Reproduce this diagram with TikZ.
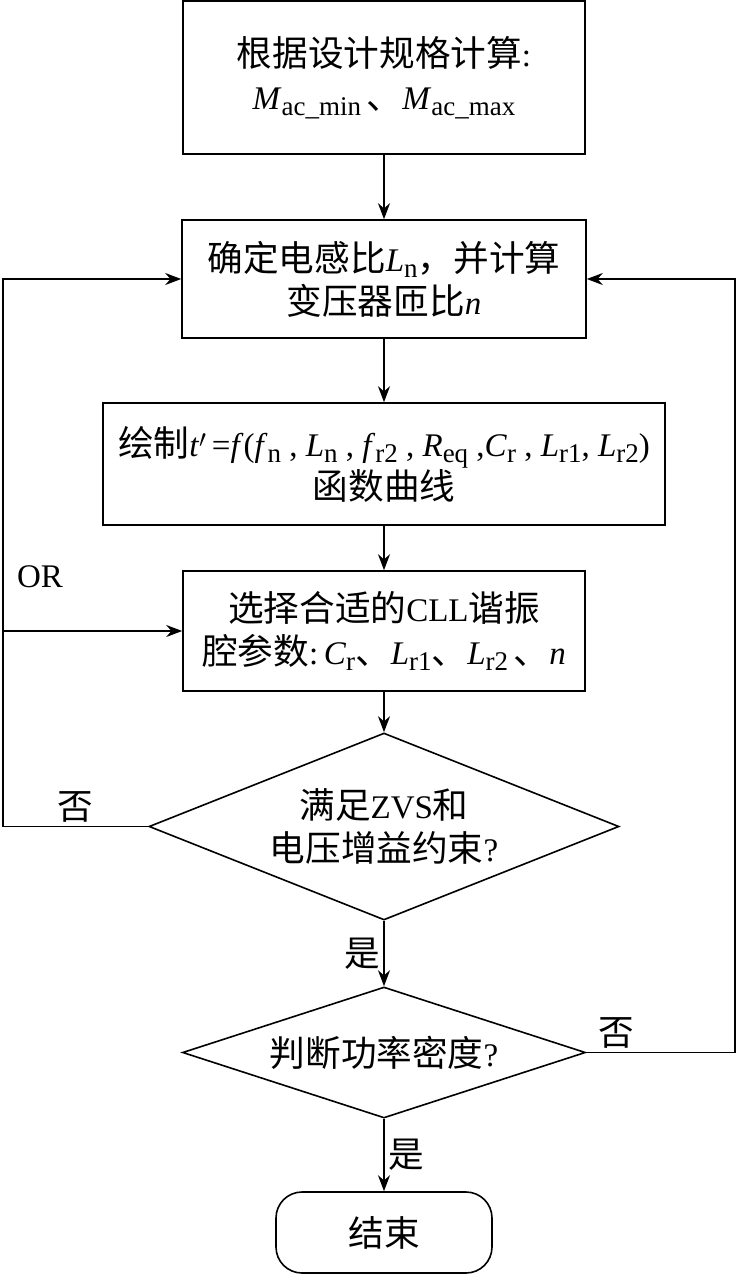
\documentclass[tikz,border=0pt]{standalone}
\usepackage{fontspec}
\setmainfont{Liberation Serif}
\newfontfamily\zhfont[Scale=1.08]{Noto Sans CJK SC}
\newcommand{\zh}[1]{{\zhfont #1}}
\newcommand{\low}[1]{\raisebox{-0.2em}{\fontsize{27}{27}\selectfont #1}}
\usetikzlibrary{arrows.meta, shapes.geometric}
\tikzset{
    blk/.style={draw, line width=1.6pt, inner sep=0pt, align=center},
    dec/.style={draw, diamond, line width=1.6pt, inner sep=0pt, align=center},
    term/.style={draw, line width=1.6pt, rounded corners=26pt, minimum width=216pt, minimum height=81pt},
    bd/.style={>={Stealth[length=16pt, width=12pt]}, line width=1.6pt, font=\fontsize{33}{43}\selectfont}
}

\begin{document}
\begin{tikzpicture}[bd, x=1pt, y=-1pt]
        \useasboundingbox (0,0) rectangle (737,1282);
        \coordinate (lx) at (3,0);
        \coordinate (rx) at (735,0);
        \node[blk, minimum width=402pt, minimum height=153pt] (b1) at (384,77.5)
            {\zh{根据设计规格计算}:\\\textit{M}\low{ac\_min}\,\zh{、}\textit{M}\low{ac\_max}};
        \node[blk, minimum width=404pt, minimum height=118pt] (b2) at (384,279)
            {\zh{确定电感比}\textit{L}\low{n}\zh{，并计算}\\\zh{变压器匝比}\textit{n}};
        \node[blk, minimum width=562pt, minimum height=122pt] (b3) at (384,464)
            {\zh{绘制}\textit{t}$'$\,=\textit{f}(\textit{f}\low{n} , \textit{L}\low{n} , \textit{f}\low{r2} , \textit{R}\low{eq} ,\textit{C}\low{r} , \textit{L}\low{r1}, \textit{L}\low{r2})\\\zh{函数曲线}};
        \node[blk, minimum width=402pt, minimum height=120pt] (b4) at (384,631)
            {\zh{选择合适的}CLL\zh{谐振}\\\zh{腔参数}:\,\textit{C}\low{r}\zh{、}\textit{L}\low{r1}\zh{、}\textit{L}\low{r2}\,\zh{、}\textit{n}};
        \node[dec, minimum width=470pt, minimum height=187pt, shape aspect=2.5] (d1) at (384,826.5)
            {\zh{满足}ZVS\zh{和}\\\zh{电压增益约束}?};
        \node[dec, minimum width=403pt, minimum height=131pt, shape aspect=3] (d2) at (384,1052.5)
            {\zh{判断功率密度}?};
        \node[term] (ed) at (384,1232.5) {\zh{结束}};
        \node (orl) at (40,577) {OR};

        \draw[->] (b1) -- (b2);
        \draw[->] (b2) -- (b3);
        \draw[->] (b3) -- (b4);
        \draw[->] (b4) -- (d1);
        \draw[->] (d1) -- (d2) node[midway, left] {\zh{是}};
        \draw[->] (d2) -- (ed) node[midway, right] {\zh{是}};
        \draw[->] (d1.west) -- (d1.west -| lx) node[midway, above] {\zh{否}} |- (b2.west);
        \draw[->] (b4.west -| lx) -- (b4.west);
        \draw[->] (d2.east) -- (d2.east -| rx) node[pos=0.2, above] {\zh{否}} |- (b2.east);
\end{tikzpicture}
\end{document}
